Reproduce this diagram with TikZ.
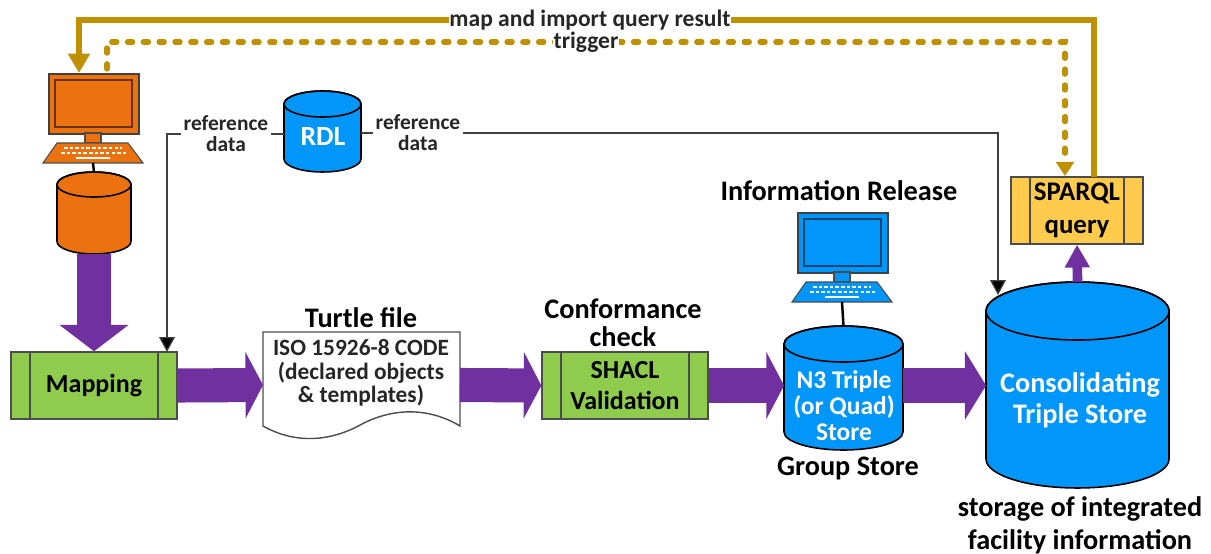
\documentclass[tikz,border=0pt]{standalone}
\usepackage{fontspec}
\setmainfont{Carlito}
\usetikzlibrary{arrows.meta,calc}

\definecolor{techorange}{HTML}{EC7210}
\definecolor{techblue}{HTML}{0096FA}
\definecolor{techgreen}{HTML}{8FCC4E}
\definecolor{techpurple}{HTML}{7030A0}
\definecolor{techgold}{HTML}{BF9000}
\definecolor{techyellow}{HTML}{FFCB4C}

% node name, x radius, y radius, colour
\newcommand{\storecan}[4]{
  \draw[black,line width=.9pt,fill=#4] ([yshift=-#3]#1.north west) -- ([yshift=#3]#1.south west)
    arc[start angle=180,end angle=360,x radius=#2,y radius=#3] -- ([yshift=-#3]#1.north east)
    arc[start angle=0,end angle=180,x radius=#2,y radius=#3] -- cycle;
  \draw[black,line width=.9pt] ([yshift=-#3]#1.north) ellipse[x radius=#2,y radius=#3];
}

\tikzset{
  canbox/.style={inner sep=0pt,outer sep=0pt},
  cantext/.style={text=white,align=center,inner sep=0pt},
  procbox/.style={draw=black!70,line width=.8pt,fill=#1,minimum width=3.32cm,minimum height=1.34cm,inner sep=0pt,align=center,
    font=\fontsize{14.8}{17.6}\selectfont\bfseries,
    path picture={
      \draw[black!70,line width=.8pt] ([xshift=.38cm]path picture bounding box.north west) -- ([xshift=.38cm]path picture bounding box.south west);
      \draw[black!70,line width=.8pt] ([xshift=-.38cm]path picture bounding box.north east) -- ([xshift=-.38cm]path picture bounding box.south east);}},
  headtext/.style={font=\fontsize{16.1}{16}\selectfont\bfseries,align=center,inner sep=0pt},
  smalltext/.style={font=\fontsize{12.2}{12}\selectfont\bfseries,align=center,fill=white,inner sep=1.5pt,text=black!85},
  blockarrow/.style={draw=techpurple,line width=19.4pt,-{Triangle[length=10pt,width=37.6pt]}},
  goldline/.style={draw=techgold,line width=2.9pt},
  refline/.style={draw=black!75,line width=.7pt,-{Triangle[length=8.5pt,width=9pt,fill=black]}},
  pics/desktop/.style={code={
    \node[draw=black!75,fill=#1,line width=1pt,minimum width=1.8cm,minimum height=1.2cm,inner sep=0pt,anchor=north west] (-screen) at (0,0) {};
    \draw[draw=#1!45!black,line width=1.6pt] (7,7) rectangle (84,54);
    \draw[black!70,fill=#1,line width=.6pt] (37,60) rectangle (53,70);
    \draw[black!70,fill=#1,line width=.6pt] (9,70) -- (80,70) -- (95,90) -- (-5,90) -- cycle;
    \draw[white,line width=1.1pt,dash pattern=on 2pt off 1.2pt] (16,75) -- (74,75);
    \draw[white,line width=1.1pt,dash pattern=on 2pt off 1.2pt] (13,80) -- (78,80);
    \draw[white,line width=1.3pt] (28,85) -- (62,85);
    \coordinate (-foot) at (45,90);
  }}
}

\begin{document}
\begin{tikzpicture}[x=.02cm,y=-.02cm]
    \useasboundingbox (0,0) rectangle (1211,554);

    % source side
    \pic (sourcepc) at (48,73) {desktop=techorange};
    \node[canbox,minimum width=1.48cm,minimum height=1.64cm] (sourcedb) at (94,213) {};
    \storecan{sourcedb}{.74cm}{.25cm}{techorange}
    \node[procbox=techgreen] (mapping) at (94,385.5) {\raisebox{-1pt}{Mapping}};

    % reference data
    \node[canbox,minimum width=1.54cm,minimum height=1.62cm] (rdl) at (322.5,131.5) {};
    \storecan{rdl}{.77cm}{.26cm}{techblue}
    \node[cantext,font=\fontsize{15.8}{18}\selectfont\bfseries] (rdltext) at (323,137) {RDL};

    % turtle file
    \node[minimum width=3.94cm,minimum height=1.06cm,inner sep=0pt,outer sep=0pt] (turtle) at (361.5,385) {};
    \draw[black!70,fill=white,line width=.8pt] (263,332) -- (460,332) -- (460,426)
      .. controls (430,408) and (395,407) .. (362,424) .. controls (330,442) and (295,444) .. (263,426) -- cycle;
    \node[font=\fontsize{13.3}{13.4}\selectfont\bfseries,align=center,inner sep=0pt,text=black!85] (turtletext) at (361,373)
      {ISO 15926-8 CODE\\(declared objects\\\& templates)};
    \node[headtext] (turtlehead) at (361,318) {Turtle file};

    % conformance check
    \node[procbox=techgreen] (shacl) at (625,385.5) {SHACL\\Validation};
    \node[headtext] (conformance) at (623,323) {Conformance\\check};

    % group store
    \pic (releasepc) at (797,212) {desktop=techblue};
    \node[headtext] (release) at (839,191) {Information Release};
    \node[canbox,minimum width=2.38cm,minimum height=2.48cm] (n3) at (843.5,388) {};
    \storecan{n3}{1.19cm}{.36cm}{techblue}
    \node[cantext,font=\fontsize{14.5}{14.8}\selectfont\bfseries] (n3text) at (844,406) {N3 Triple\\(or Quad)\\Store};
    \node[headtext] (group) at (848,468) {Group Store};

    % consolidating store
    \node[canbox,minimum width=3.66cm,minimum height=4.12cm] (store) at (1077.5,385) {};
    \storecan{store}{1.83cm}{.58cm}{techblue}
    \node[cantext,font=\fontsize{16.1}{17.6}\selectfont\bfseries] (storetext) at (1080,400) {Consolidating\\Triple Store};
    \node[headtext,font=\fontsize{16.1}{18.8}\selectfont\bfseries] (integrated) at (1080,525) {storage of integrated\\facility information};
    \node[procbox=techyellow,minimum width=2.64cm,minimum height=1.34cm,font=\fontsize{15.3}{18.8}\selectfont\bfseries] (sparql) at (1077,210.5) {SPARQL\\query};

    % purple flow
    \draw[blockarrow,-{Triangle[length=15pt,width=38.5pt]}] (sourcedb.south) -- (mapping.north);
    \draw[blockarrow] (mapping.east) -- (turtle.west);
    \draw[blockarrow] (turtle.east) -- (shacl.west);
    \draw[blockarrow] (shacl.east) -- (shacl.east -| n3.west);
    \draw[blockarrow,-{Triangle[length=12pt,width=38.5pt]}] (n3.east |- shacl.east) -- (store.west |- shacl.east);
    \draw[blockarrow,line width=5.5pt,-{Triangle[length=13pt,width=13.5pt]}] (store.north) -- (sparql.south);

    % plain links
    \draw[black,line width=1.4pt] (sourcepc-foot) -- (sourcedb.north);
    \draw[black,line width=1.4pt] (releasepc-foot) -- (n3.north);

    % reference lines
    \coordinate (refleft) at (226,134);
    \coordinate (refright) at (418,133);
    \coordinate (mapin) at (167,352);
    \coordinate (storein) at (998,295);
    \draw[refline] (refleft -| rdl.west) -| (mapin);
    \draw[refline] (refright -| rdl.east) -| (storein);
    \node[smalltext] (refleftlabel) at (refleft) {reference\\data};
    \node[smalltext] (refrightlabel) at (refright) {reference\\data};

    % gold lines
    \coordinate (mapfrom) at (1094,177);
    \coordinate (mapto) at (79,73);
    \coordinate (maprail) at (590,20);
    \coordinate (trigfrom) at (107,69);
    \coordinate (trigto) at (1065,176);
    \coordinate (trigrail) at (586,42);
    \draw[goldline,-{Triangle[length=11pt,width=12pt]}] (mapfrom) -- (mapfrom |- maprail) -- (mapto |- maprail) -- (mapto);
    \draw[goldline,line cap=round,dash pattern=on 3pt off 6pt,-{Triangle[length=8pt,width=10pt]}] (trigfrom) -- (trigfrom |- trigrail) -- (trigto |- trigrail) -- (trigto);
    \node[smalltext,inner sep=.5pt,font=\fontsize{13.4}{14}\selectfont\bfseries] (maplabel) at (maprail) {map and import query result};
    \node[smalltext,inner sep=.5pt,font=\fontsize{13.4}{14}\selectfont\bfseries] (triglabel) at (trigrail) {trigger};
\end{tikzpicture}
\end{document}
